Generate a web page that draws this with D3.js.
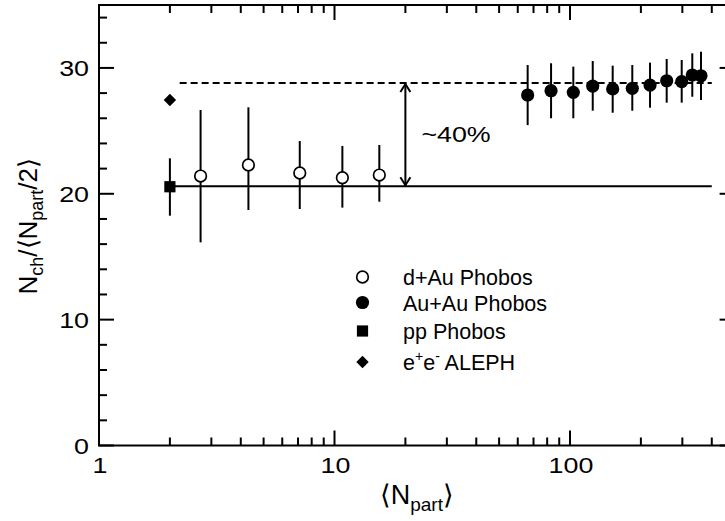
<!DOCTYPE html>
<html>
<head>
<meta charset="utf-8">
<script src="https://cdn.jsdelivr.net/npm/d3@7"></script>
<style>
  html, body { margin: 0; padding: 0; background: #fff; }
  svg { display: block; }
  text { font-family: "Liberation Sans", Arial, Helvetica, sans-serif; fill: #000; }
</style>
</head>
<body>
<svg id="chart" width="725" height="521"></svg>
<script>
// d+Au Phobos (open circles): <Npart>, value, upper and lower error-bar ends
const dAuNpart = [2.70, 4.31, 7.12, 10.8, 15.5];
const dAuVal   = [21.41, 22.29, 21.65, 21.28, 21.49];
const dAuHi    = [26.66, 26.87, 24.19, 23.80, 23.88];
const dAuLo    = [16.14, 18.71, 18.79, 18.90, 19.37];

// Au+Au Phobos (filled circles)
const auAuNpart = [66.1, 83.1, 103.3, 124.9, 151.8, 183.9, 218.7, 257.4, 298.1, 330.6, 359.9];
const auAuVal   = [27.85, 28.19, 28.06, 28.56, 28.33, 28.38, 28.64, 28.98, 28.91, 29.44, 29.38];
const auAuHi    = [30.23, 30.37, 30.10, 30.55, 30.18, 30.23, 30.42, 30.71, 30.63, 31.16, 31.29];
const auAuLo    = [25.46, 26.00, 26.00, 26.60, 26.44, 26.60, 26.84, 27.24, 27.24, 27.71, 27.45];

// pp Phobos (filled square) and e+e- ALEPH (filled diamond)
const ppNpart = [2];
const ppVal   = [20.56];
const ppHi    = [22.82];
const ppLo    = [18.26];
const eeNpart = [2];
const eeVal   = [27.45];

// Reference levels and the span they are drawn over
const ppLevel   = 20.6;
const auAuLevel = 28.8;
const levelSolidSpan  = [2, 400];
const levelDashedSpan = [2.2, 400];
const arrowNpart = 20;
const arrowLabel = "~40%";

// Axes
const xDomain = [1, 500];
const yDomain = [0, 35];
const xMajorTicks = [1, 10, 100];
const xMinorTicks = [2,3,4,5,6,7,8,9,20,30,40,50,60,70,80,90,200,300,400];
const yMajorTicks = [0, 10, 20, 30];
const yMinorTicks = [2,4,6,8,12,14,16,18,22,24,26,28,32,34];

const legendItems = ["dAu", "AuAu", "pp", "ee"];

// ---------------------------------------------------------------
const svg = d3.select("#chart");
const plotL = 99, plotR = 734.6, plotT = 5, plotB = 445.5;
const x = d3.scaleLog().domain(xDomain).range([plotL, plotR]);
const y = d3.scaleLinear().domain(yDomain).range([plotB, plotT]);
const ink = "#000";
const digitStretch = 1.22;

// Symbol painters
function openCircle(g, cx, cy) {
  g.append("circle").attr("cx", cx).attr("cy", cy).attr("r", 5.8)
    .attr("fill", "#fff").attr("stroke", ink).attr("stroke-width", 1.7);
}
function filledCircle(g, cx, cy) {
  g.append("circle").attr("cx", cx).attr("cy", cy).attr("r", 6.6).attr("fill", ink);
}
function square(g, cx, cy) {
  g.append("rect").attr("x", cx - 5.6).attr("y", cy - 5.6)
    .attr("width", 11.2).attr("height", 11.2).attr("fill", ink);
}
function diamond(g, cx, cy) {
  const r = 6.2;
  g.append("path").attr("d", `M${cx},${cy - r}L${cx + r},${cy}L${cx},${cy + r}L${cx - r},${cy}Z`)
    .attr("fill", ink);
}

// Reference lines
const lines = svg.append("g");
lines.append("line")
  .attr("x1", x(levelSolidSpan[0])).attr("x2", x(levelSolidSpan[1]))
  .attr("y1", y(ppLevel)).attr("y2", y(ppLevel))
  .attr("stroke", ink).attr("stroke-width", 2);
lines.append("line")
  .attr("x1", x(levelDashedSpan[0])).attr("x2", x(levelDashedSpan[1]))
  .attr("y1", y(auAuLevel)).attr("y2", y(auAuLevel))
  .attr("stroke", ink).attr("stroke-width", 2).attr("stroke-dasharray", "7,4");

// Double-headed arrow between the two levels
const ax = x(arrowNpart), ay1 = y(auAuLevel), ay2 = y(ppLevel);
const arrow = svg.append("g").attr("fill", "none").attr("stroke", ink).attr("stroke-width", 2);
arrow.append("line").attr("x1", ax).attr("x2", ax).attr("y1", ay1 + 1).attr("y2", ay2 - 1);
arrow.append("path").attr("d", `M${ax - 5},${ay1 + 9}L${ax},${ay1 + 1}L${ax + 5},${ay1 + 9}`);
arrow.append("path").attr("d", `M${ax - 5},${ay2 - 9}L${ax},${ay2 - 1}L${ax + 5},${ay2 - 9}`);
svg.append("text")
  .attr("transform", `translate(${ax + 16},${y((ppLevel + auAuLevel) / 2) + 7}) scale(${digitStretch},1)`)
  .attr("font-size", 22).text(arrowLabel);

// Error bars
const bars = svg.append("g").attr("stroke", ink).attr("stroke-width", 2);
function errorBars(xs, hi, lo) {
  xs.forEach((v, i) => {
    bars.append("line").attr("x1", x(v)).attr("x2", x(v))
      .attr("y1", y(hi[i])).attr("y2", y(lo[i]));
  });
}
errorBars(dAuNpart, dAuHi, dAuLo);
errorBars(auAuNpart, auAuHi, auAuLo);
errorBars(ppNpart, ppHi, ppLo);

// Markers
const marks = svg.append("g");
dAuNpart.forEach((v, i) => openCircle(marks, x(v), y(dAuVal[i])));
auAuNpart.forEach((v, i) => filledCircle(marks, x(v), y(auAuVal[i])));
ppNpart.forEach((v, i) => square(marks, x(v), y(ppVal[i])));
eeNpart.forEach((v, i) => diamond(marks, x(v), y(eeVal[i])));

// Frame and ticks on all four sides, pointing inwards
const axes = svg.append("g").attr("stroke", ink).attr("stroke-width", 2);
axes.append("rect").attr("x", plotL).attr("y", plotT)
  .attr("width", plotR - plotL).attr("height", plotB - plotT).attr("fill", "none");
const majorLen = 15, minorLen = 8;
function xTicks(vals, len) {
  vals.forEach(v => {
    axes.append("line").attr("x1", x(v)).attr("x2", x(v)).attr("y1", plotB).attr("y2", plotB - len);
    axes.append("line").attr("x1", x(v)).attr("x2", x(v)).attr("y1", plotT).attr("y2", plotT + len);
  });
}
function yTicks(vals, len) {
  vals.forEach(v => {
    axes.append("line").attr("x1", plotL).attr("x2", plotL + len).attr("y1", y(v)).attr("y2", y(v));
    axes.append("line").attr("x1", plotR).attr("x2", plotR - len).attr("y1", y(v)).attr("y2", y(v));
  });
}
xTicks(xMajorTicks, majorLen);
xTicks(xMinorTicks, minorLen);
yTicks(yMajorTicks, majorLen);
yTicks(yMinorTicks, minorLen);

// Tick labels
const labels = svg.append("g").attr("font-size", 22);
xMajorTicks.forEach(v => {
  labels.append("text").attr("text-anchor", "middle")
    .attr("transform", `translate(${x(v) + 1},${plotB + 27}) scale(${digitStretch},1)`)
    .text(d3.format("d")(v));
});
yMajorTicks.forEach(v => {
  labels.append("text").attr("text-anchor", "end")
    .attr("transform", `translate(${plotL - 10},${y(v) + 8}) scale(${digitStretch},1)`)
    .text(v);
});

// Axis titles
const xt = svg.append("text").attr("text-anchor", "middle")
  .attr("x", (plotL + plotR) / 2).attr("y", 504).attr("font-size", 27);
xt.append("tspan").text("\u27E8N");
xt.append("tspan").attr("font-size", 19).attr("dy", 7).text("part");
xt.append("tspan").attr("dy", -7).text("\u27E9");

const yt = svg.append("text").attr("text-anchor", "middle")
  .attr("transform", `translate(37,${(plotT + plotB) / 2 + 1}) rotate(-90)`)
  .attr("font-size", 26);
yt.append("tspan").text("N");
yt.append("tspan").attr("font-size", 18).attr("dy", 6).text("ch");
yt.append("tspan").attr("dy", -6).text("/\u27E8N");
yt.append("tspan").attr("font-size", 18).attr("dy", 6).text("part");
yt.append("tspan").attr("dy", -6).text("/2\u27E9");

// Legend
const legendX = 362.5, legendTextX = 403, legendRowY = [277, 302.5, 331, 362];
const legend = svg.append("g").attr("font-size", 21.5);
const painters = { dAu: openCircle, AuAu: filledCircle, pp: square, ee: diamond };
legendItems.forEach((k, i) => {
  painters[k](legend, legendX, legendRowY[i]);
  const t = legend.append("text").attr("x", legendTextX).attr("y", legendRowY[i] + 8);
  if (k === "dAu") t.text("d+Au Phobos");
  if (k === "AuAu") t.text("Au+Au Phobos");
  if (k === "pp") t.text("pp Phobos");
  if (k === "ee") {
    t.append("tspan").text("e");
    t.append("tspan").attr("font-size", 14).attr("dy", -9).text("+");
    t.append("tspan").attr("dy", 9).text("e");
    t.append("tspan").attr("font-size", 14).attr("dy", -9).text("-");
    t.append("tspan").attr("dy", 9).text(" ALEPH");
  }
});
</script>
</body>
</html>
